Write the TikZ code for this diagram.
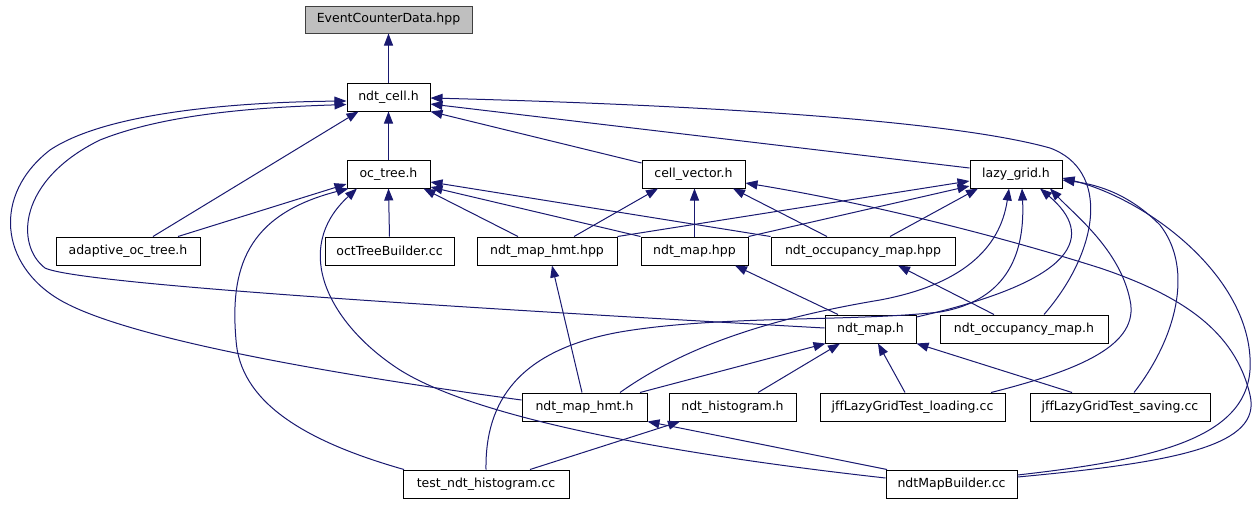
\documentclass[tikz,border=0pt]{standalone}
\usepackage{fontspec}
\setmainfont[Ligatures=NoCommon]{DejaVu Sans}
\usetikzlibrary{arrows.meta}
\definecolor{edgec}{HTML}{191970}
\definecolor{rootfill}{HTML}{BFBFBF}
\begin{document}
\begin{tikzpicture}[x=1pt,y=-1pt,
  box/.style={draw=black,line width=1pt,fill=white,inner sep=0pt,minimum height=28pt,
    font=\fontsize{12.5}{14}\selectfont},
  rootbox/.style={box,fill=rootfill,draw=black!75,minimum height=27pt},
  edge/.style={draw=edgec,line width=1pt,-{Triangle[length=12pt,width=9pt]}}]
\useasboundingbox (0,0) rectangle (1256,504);
% nodes
\node[rootbox,minimum width=167pt] (ecd) at (388.5,19.5) {EventCounterData.hpp};
\node[box,minimum width=83pt] (cell) at (388.5,97) {ndt\_cell.h};
\node[box,minimum width=83pt] (oct) at (388.5,174) {oc\_tree.h};
\node[box,minimum width=103pt] (cv) at (693.5,174) {cell\_vector.h};
\node[box,minimum width=92pt] (lg) at (1016,174) {lazy\_grid.h};
\node[box,minimum width=144pt] (aot) at (128,251) {adaptive\_oc\_tree.h};
\node[box,minimum width=129pt] (otb) at (389.5,251) {octTreeBuilder.cc};
\node[box,minimum width=140pt] (hmthpp) at (547,251) {ndt\_map\_hmt.hpp};
\node[box,minimum width=107pt] (maphpp) at (694.5,251) {ndt\_map.hpp};
\node[box,minimum width=184pt] (occhpp) at (863,251) {ndt\_occupancy\_map.hpp};
\node[box,minimum width=91pt] (maph) at (870.5,329) {ndt\_map.h};
\node[box,minimum width=168pt] (occh) at (1024,329) {ndt\_occupancy\_map.h};
\node[box,minimum width=125pt] (hmth) at (584.5,407) {ndt\_map\_hmt.h};
\node[box,minimum width=127pt] (hist) at (732.5,407) {ndt\_histogram.h};
\node[box,minimum width=185pt] (jl) at (912.5,407) {jffLazyGridTest\_loading.cc};
\node[box,minimum width=180pt] (js) at (1120,407) {jffLazyGridTest\_saving.cc};
\node[box,minimum width=166pt] (tnh) at (486,484) {test\_ndt\_histogram.cc};
\node[box,minimum width=131pt] (nmb) at (951.5,484) {ndtMapBuilder.cc};
% edges to EventCounterData / ndt_cell
\draw[edge] (cell.north) -- (ecd.south);
\draw[edge] (oct.north) -- (cell.south);
\draw[edge] ([shift={(25,0)}]aot.north) -- ([shift={(-30,0)}]cell.south);
\draw[edge] ([shift={(0,-11)}]cv.west) -- (cell.south east);
\draw[edge] ([shift={(0,-6)}]lg.west) -- ([shift={(0,7)}]cell.east);
\draw[edge] ([shift={(20,0)}]occh.north) .. controls (1100,250) and (1110,170) .. (1050,148)
   .. controls (950,120) and (700,105) .. ([shift={(0,1)}]cell.east);
\draw[edge] ([shift={(0,-7)}]hmth.west) .. controls (300,370) and (120,335) .. (60,300)
   .. controls (0,265) and (-8,195) .. (50,150)
   .. controls (110,110) and (250,102) .. ([shift={(0,4)}]cell.west);
\draw[edge] ([shift={(0,-1)}]maph.west) .. controls (500,310) and (80,285) .. (45,268)
   .. controls (15,245) and (18,180) .. (100,140)
   .. controls (170,112) and (270,107) .. ([shift={(0,7.5)}]cell.west);
% edges to oc_tree
\draw[edge] (otb.north) -- (oct.south);
\draw[edge] ([shift={(50,0)}]aot.north) -- ([shift={(0,10)}]oct.west);
\draw[edge] ([shift={(-29,0)}]hmthpp.north) -- ([shift={(35,0)}]oct.south);
\draw[edge] (maphpp.north west) -- ([shift={(0,13)}]oct.east);
\draw[edge] (occhpp.north west) -- ([shift={(0,8)}]oct.east);
\draw[edge] ([shift={(-82,0)}]tnh.north) .. controls (300,440) and (240,400) .. (236,340)
   .. controls (230,270) and (245,215) .. ([shift={(2,0)}]oct.south west);
\draw[edge] ([shift={(0,-6)}]nmb.west) .. controls (680,455) and (480,420) .. (400,370)
   .. controls (330,325) and (290,250) .. ([shift={(-31.5,0)}]oct.south);
% edges to cell_vector
\draw[edge] ([shift={(27,0)}]hmthpp.north) -- ([shift={(-35.5,0)}]cv.south);
\draw[edge] (maphpp.north) -- (maphpp.north |- cv.south);
\draw[edge] ([shift={(-36,0)}]occhpp.north) -- ([shift={(39.5,0)}]cv.south);
\draw[edge] ([shift={(0,-7)}]nmb.east) .. controls (1180,462) and (1262,445) .. (1250,395)
   .. controls (1235,330) and (1180,295) .. (1100,268)
   .. controls (980,230) and (850,200) .. ([shift={(0,9)}]cv.east);
% edges to lazy_grid
\draw[edge] (hmthpp.north east) -- ([shift={(0,7)}]lg.west);
\draw[edge] (maphpp.north east) -- ([shift={(0,12)}]lg.west);
\draw[edge] ([shift={(27,0)}]occhpp.north) -- ([shift={(-38,0)}]lg.south);
\draw[edge] ([shift={(35.5,0)}]hmth.north) .. controls (680,350) and (760,320) .. (880,300)
   .. controls (960,285) and (1000,250) .. ([shift={(-7,0)}]lg.south);
\draw[edge] (tnh.north) .. controls (485,400) and (520,350) .. (620,332)
   .. controls (720,315) and (850,322) .. (940,312)
   .. controls (1010,300) and (1025,250) .. ([shift={(6,0)}]lg.south);
\draw[edge] ([shift={(0,-12)}]maph.east) .. controls (1080,280) and (1095,235) .. ([shift={(24,0)}]lg.south);
\draw[edge] ([shift={(78.5,0)}]jl.north) .. controls (1080,370) and (1140,345) .. (1130,300)
   .. controls (1120,250) and (1075,215) .. ([shift={(34,0)}]lg.south);
\draw[edge] ([shift={(14,0)}]js.north) .. controls (1175,340) and (1195,270) .. (1160,225)
   .. controls (1130,195) and (1100,185) .. ([shift={(0,6)}]lg.east);
\draw[edge] ([shift={(0,-9)}]nmb.east) .. controls (1150,460) and (1245,440) .. (1250,370)
   .. controls (1255,280) and (1150,200) .. ([shift={(0,4)}]lg.east);
% lower edges
\draw[edge] ([shift={(-32.5,0)}]maph.north) -- ([shift={(40.5,0)}]maphpp.south);
\draw[edge] ([shift={(-30,0)}]occh.north) -- ([shift={(35,0)}]occhpp.south);
\draw[edge] ([shift={(-2.5,0)}]hmth.north) -- ([shift={(5,0)}]hmthpp.south);
\draw[edge] ([shift={(55.5,0)}]hmth.north) -- ([shift={(1,0)}]maph.south west);
\draw[edge] ([shift={(25.5,0)}]hist.north) -- ([shift={(-30.5,0)}]maph.south);
\draw[edge] ([shift={(-7.5,0)}]jl.north) -- ([shift={(7.5,0)}]maph.south);
\draw[edge] ([shift={(-48,0)}]js.north) -- (maph.south east);
\draw[edge] ([shift={(-64.5,0)}]nmb.north) -- (hmth.south east);
\draw[edge] ([shift={(44,0)}]tnh.north) -- ([shift={(-52.5,0)}]hist.south);
\end{tikzpicture}
\end{document}
